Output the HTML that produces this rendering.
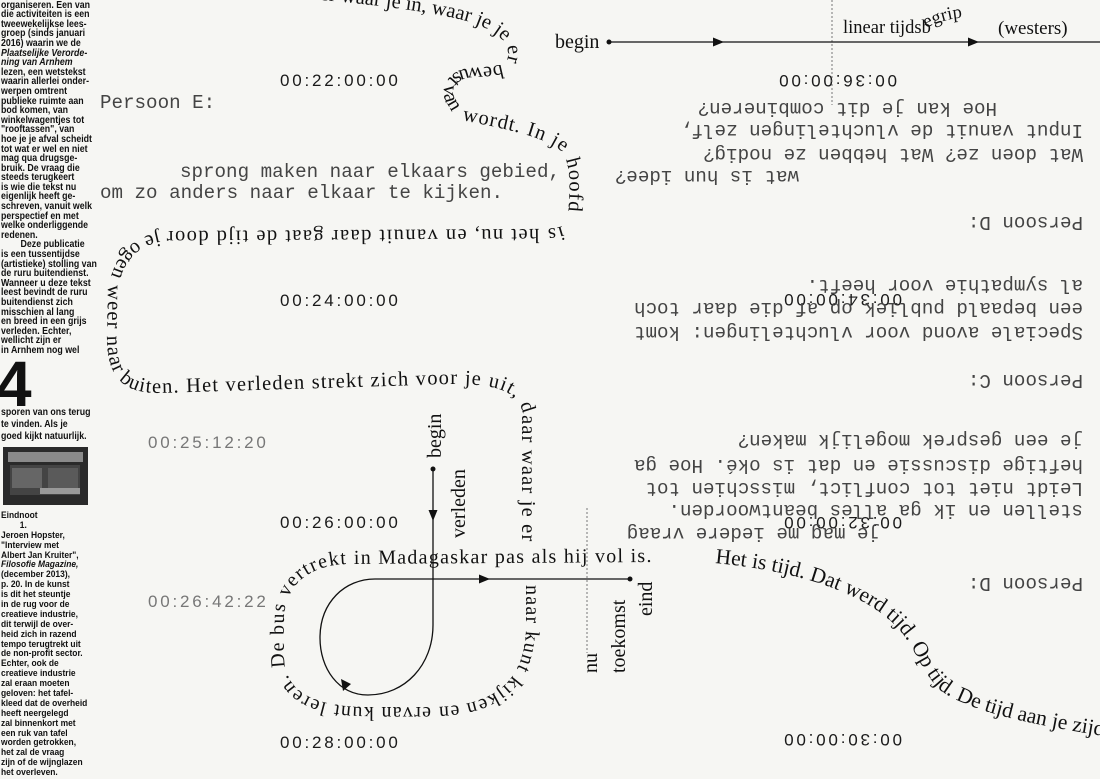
<!DOCTYPE html>
<html><head><meta charset="utf-8">
<style>
html,body{margin:0;padding:0;background:#f6f6f3;}
#wrap{position:relative;width:1100px;height:779px;overflow:hidden;background:#f6f6f3;}
svg{position:absolute;left:0;top:0;}
.col{position:absolute;left:1px;width:140px;font-family:"Liberation Sans",sans-serif;font-weight:bold;color:#111;transform:scaleX(0.88);transform-origin:0 0;}
.col div{white-space:nowrap;height:9.6px;line-height:9.6px;font-size:9.8px;}
.col1 div{height:9.6px;line-height:9.6px;font-size:10px;}
.col3 div{height:11.8px;line-height:11.8px;font-size:10px;}
.col2 div{height:9.9px;line-height:9.9px;font-size:9.6px;}
.i{font-style:italic;}
</style></head><body><div id="wrap">
<div class="col col1" style="top:-9px;transform:scaleX(0.88)"><div>die we in het ruru huis</div><div>organiseren. Een van</div><div>die activiteiten is een</div><div>tweewekelijkse lees-</div><div>groep (sinds januari</div><div>2016) waarin we de</div><div class="i">Plaatselijke Verorde-</div><div class="i">ning van Arnhem</div><div>lezen, een wetstekst</div><div>waarin allerlei onder-</div><div>werpen omtrent</div><div>publieke ruimte aan</div><div>bod komen, van</div><div>winkelwagentjes tot</div><div>"rooftassen", van</div><div>hoe je je afval scheidt</div><div>tot wat er wel en niet</div><div>mag qua drugsge-</div><div>bruik. De vraag die</div><div>steeds terugkeert</div><div>is wie die tekst nu</div><div>eigenlijk heeft ge-</div><div>schreven, vanuit welk</div><div>perspectief en met</div><div>welke onderliggende</div><div>redenen.</div><div>&nbsp;&nbsp;&nbsp;&nbsp;&nbsp;&nbsp;&nbsp;&nbsp;Deze publicatie</div><div>is een tussentijdse</div><div>(artistieke) stolling van</div><div>de ruru buitendienst.</div><div>Wanneer u deze tekst</div><div>leest bevindt de ruru</div><div>buitendienst zich</div><div>misschien al lang</div><div>en breed in een grijs</div><div>verleden. Echter,</div><div>wellicht zijn er</div><div>in Arnhem nog wel</div></div>

<div class="col col3" style="top:407px;transform:scaleX(0.88)"><div>sporen van ons terug</div><div>te vinden. Als je</div><div>goed kijkt natuurlijk.</div></div>

<div class="col col2" style="top:511px;"><div>Eindnoot</div><div>&nbsp;&nbsp;&nbsp;&nbsp;&nbsp;&nbsp;&nbsp;&nbsp;1.</div><div>Jeroen Hopster,</div><div>"Interview met</div><div>Albert Jan Kruiter",</div><div class="i">Filosofie Magazine,</div><div>(december 2013),</div><div>p. 20. In de kunst</div><div>is dit het steuntje</div><div>in de rug voor de</div><div>creatieve industrie,</div><div>dit terwijl de over-</div><div>heid zich in razend</div><div>tempo terugtrekt uit</div><div>de non-profit sector.</div><div>Echter, ook de</div><div>creatieve industrie</div><div>zal eraan moeten</div><div>geloven: het tafel-</div><div>kleed dat de overheid</div><div>heeft neergelegd</div><div>zal binnenkort met</div><div>een ruk van tafel</div><div>worden getrokken,</div><div>het zal de vraag</div><div>zijn of de wijnglazen</div><div>het overleven.</div></div>

<svg width="1100" height="779" viewBox="0 0 1100 779">
<defs>
<path id="pA1" d="M 200,-8 C 330,-2 430,10 470,22 C 500,32 512,45 507,60 C 502,67 485,67 470,68 C 450,70 440,85 445,100 L 452,112"/>
<path id="pA2" d="M 462,120 C 500,128 540,135 560,150 C 572,162 570,190 568,215"/>
<path id="pA3" d="M 562,226 C 555,229 545,229 520,229 L 170,231 C 140,233 118,248 110,280"/>
<path id="pA4" d="M 108,285 L 107,340 C 108,380 125,393 160,393 L 420,385 C 480,382 515,385 522,410 L 522,545"/>
<path id="pB" d="M 526,585 L 526,625 C 526,685 490,707 430,707 L 370,707 C 310,707 284,690 284,655 L 284,620 C 284,585 310,564 350,564 L 655,562"/>
<path id="pC" d="M 715,563 C 790,570 860,590 895,625 C 915,645 920,670 940,690 C 970,712 1030,725 1130,740"/>
<path id="pE" d="M 926,28 Q 962,10 1000,22"/>
</defs>

<rect x="3" y="447" width="85" height="58" fill="#2a2a2a"/>
<rect x="8" y="452" width="75" height="10" fill="#8a8a8a"/>
<rect x="10" y="465" width="70" height="30" fill="#444"/>
<rect x="12" y="468" width="30" height="20" fill="#666"/>
<rect x="48" y="468" width="30" height="20" fill="#5a5a5a"/>
<rect x="40" y="488" width="40" height="6" fill="#999"/>

<text x="-4" y="406" font-family="Liberation Sans,sans-serif" font-weight="bold" font-size="64" fill="#111">4</text>

<g font-family="Liberation Sans,sans-serif" font-size="17" letter-spacing="2.8" fill="#1a1a1a">
<text x="280" y="86">00:22:00:00</text>
<text x="280" y="306">00:24:00:00</text>
<text x="148" y="448" fill="#777">00:25:12:20</text>
<text x="280" y="528">00:26:00:00</text>
<text x="148" y="607" fill="#777">00:26:42:22</text>
<text x="280" y="748">00:28:00:00</text>
<text x="897" y="75" transform="rotate(180 897 75)">00:36:00:00</text>
<text x="902" y="294" transform="rotate(180 902 294)">00:34:00:00</text>
<text x="902" y="517" transform="rotate(180 902 517)">00:32:00:00</text>
<text x="902" y="734" transform="rotate(180 902 734)">00:30:00:00</text>
</g>

<g font-family="Liberation Mono,monospace" font-size="19.2" fill="#444">
<text x="100" y="108">Persoon E:</text>
<text x="180" y="177">sprong maken naar elkaars gebied,</text>
<text x="100" y="198">om zo anders naar elkaar te kijken.</text>
<text x="997" y="103" transform="rotate(180 997 103)">Hoe kan je dit combineren?</text>
<text x="1083" y="125" transform="rotate(180 1083 125)">Input vanuit de vluchtelingen zelf,</text>
<text x="1083" y="149" transform="rotate(180 1083 149)">Wat doen ze? Wat hebben ze nodig?</text>
<text x="799" y="171" transform="rotate(180 799 171)">wat is hun idee?</text>
<text x="1083" y="217" transform="rotate(180 1083 217)">Persoon D:</text>
<text x="1083" y="280" transform="rotate(180 1083 280)">al sympathie voor heeft.</text>
<text x="1083" y="303" transform="rotate(180 1083 303)">een bepaald publiek op af die daar toch</text>
<text x="1083" y="327" transform="rotate(180 1083 327)">Speciale avond voor vluchtelingen: komt</text>
<text x="1083" y="375" transform="rotate(180 1083 375)">Persoon C:</text>
<text x="1083" y="435" transform="rotate(180 1083 435)">je een gesprek mogelijk maken?</text>
<text x="1083" y="460" transform="rotate(180 1083 460)">heftige discussie en dat is oké. Hoe ga</text>
<text x="1083" y="483" transform="rotate(180 1083 483)">Leidt niet tot conflict, misschien tot</text>
<text x="1083" y="505" transform="rotate(180 1083 505)">stellen en ik ga alles beantwoorden.</text>
<text x="880" y="528" transform="rotate(180 880 528)">je mag me iedere vraag</text>
<text x="1083" y="578" transform="rotate(180 1083 578)">Persoon D:</text>
</g>

<line x1="832" y1="0" x2="832" y2="105" stroke="#777" stroke-width="1" stroke-dasharray="2,2"/>
<line x1="609" y1="42" x2="1100" y2="42" stroke="#111" stroke-width="1.3"/>
<circle cx="609" cy="42" r="2.5" fill="#111"/>
<polygon points="724,42 713,37.5 713,46.5" fill="#111"/>
<polygon points="979,42 968,37.5 968,46.5" fill="#111"/>

<line x1="587" y1="508" x2="587" y2="653" stroke="#777" stroke-width="1" stroke-dasharray="2,2"/>
<path d="M 433,469 L 433,625 C 433,665 405,695 368,695 C 338,695 320,668 320,638 C 320,602 345,579 375,579 L 630,579" fill="none" stroke="#111" stroke-width="1.3"/>
<circle cx="433" cy="469" r="2.5" fill="#111"/>
<circle cx="630" cy="579" r="2.5" fill="#111"/>
<polygon points="433,521 428.5,510 437.5,510" fill="#111"/>
<polygon points="490,579 479,574.5 479,583.5" fill="#111"/>
<polygon points="341,679 343,691 351,684" fill="#111"/>

<g font-family="Liberation Serif,serif" font-size="20" fill="#111">
<text x="555" y="48">begin</text>
<text x="843" y="33" font-size="18.5">linear tijdsb</text>
<text font-size="18.5"><textPath href="#pE">egrip</textPath></text>
<text x="998" y="34" font-size="19">(westers)</text>
<text x="441" y="458" transform="rotate(-90 441 458)">begin</text>
<text x="465" y="538" transform="rotate(-90 465 538)">verleden</text>
<text x="597" y="673" transform="rotate(-90 597 673)">nu</text>
<text x="625" y="673" transform="rotate(-90 625 673)">toekomst</text>
<text x="652" y="616" transform="rotate(-90 652 616)">eind</text>
<text font-size="20.5"><textPath href="#pA1" startOffset="100%" text-anchor="end">de tijd vloeit als een rivier waar je in, waar je je er bewust van</textPath></text>
<text font-size="20.5"><textPath class="fit" href="#pA2">wordt. In je hoofd</textPath></text>
<text font-size="20.5"><textPath class="fit" href="#pA3">is het nu, en vanuit daar gaat de tijd door je ogen</textPath></text>
<text font-size="20.5"><textPath class="fit" href="#pA4">weer naar buiten. Het verleden strekt zich voor je uit, daar waar je er</textPath></text>
<text><textPath class="fit" href="#pB">naar kunt kijken en ervan kunt leren. De bus vertrekt in Madagaskar pas als hij vol is.</textPath></text>
<text font-size="21.5"><textPath href="#pC">Het is tijd. Dat werd tijd. Op tijd. De tijd aan je zijde.</textPath></text>
</g>
</svg>
<script>
try{document.querySelectorAll('textPath.fit').forEach(function(t){var p=document.querySelector(t.getAttribute('href'));t.setAttribute('textLength',(p.getTotalLength()-4).toFixed(1));t.setAttribute('lengthAdjust','spacing');});}catch(e){}
</script>
</div></body></html>
